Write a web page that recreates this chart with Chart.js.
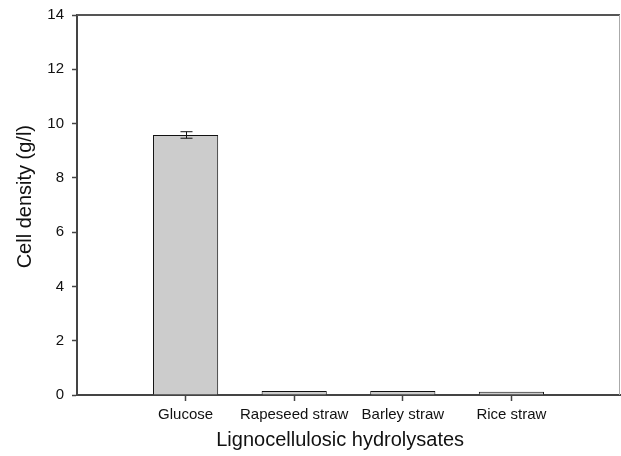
<!DOCTYPE html>
<html>
<head>
<meta charset="utf-8">
<script src="https://cdn.jsdelivr.net/npm/chart.js@4.4.0/dist/chart.umd.min.js"></script>
<style>
  html, body { margin: 0; padding: 0; background: #fff; }
  #wrap { width: 621px; height: 456px; }
</style>
</head>
<body>
<div id="wrap"><canvas id="barChart"></canvas></div>
<script>
var categories = ['Glucose', 'Rapeseed straw', 'Barley straw', 'Rice straw'];
var density = [9.58, 0.15, 0.15, 0.12];
var errors = [0.12, 0, 0, 0];
var yTicks = [0, 2, 4, 6, 8, 10, 12, 14];

var font = 'Liberation Sans, Arial, sans-serif';

// bars sit at x = 1..4 on a 0..5 axis, like the original plot
var points = categories.map(function (c, i) {
    return { x: i + 1, y: density[i] };
});

// top + right frame lines and the error bar caps
var extras = {
    id: 'extras',
    afterDatasetsDraw: function (chart) {
        var ctx = chart.ctx;
        var a = chart.chartArea;
        var xs = chart.scales.x, ys = chart.scales.y;
        ctx.save();
        ctx.strokeStyle = '#555';
        ctx.lineWidth = 2;
        ctx.beginPath();
        ctx.moveTo(a.left, a.top);
        ctx.lineTo(a.right, a.top);
        ctx.stroke();
        ctx.strokeStyle = '#aaa';
        ctx.lineWidth = 1;
        ctx.beginPath();
        ctx.moveTo(a.right - 0.5, a.top);
        ctx.lineTo(a.right - 0.5, a.bottom);
        ctx.stroke();

        ctx.strokeStyle = '#111';
        ctx.lineWidth = 1;
        errors.forEach(function (e, i) {
            if (!e) return;
            var px = Math.round(xs.getPixelForValue(i + 1)) + 0.5;
            var hi = ys.getPixelForValue(density[i] + e);
            var lo = ys.getPixelForValue(density[i] - e);
            ctx.beginPath();
            ctx.moveTo(px, hi); ctx.lineTo(px, lo);
            ctx.moveTo(px - 6, hi); ctx.lineTo(px + 6, hi);
            ctx.moveTo(px - 6, lo); ctx.lineTo(px + 6, lo);
            ctx.stroke();
        });
        ctx.restore();
    }
};

new Chart(document.getElementById('barChart').getContext('2d'), {
    type: 'bar',
    data: {
        datasets: [{
            data: points,
            backgroundColor: '#cccccc',
            borderColor: '#111',
            borderWidth: 1,
            barPercentage: 0.6,
            categoryPercentage: 1
        }]
    },
    plugins: [extras],
    options: {
        responsive: true,
        maintainAspectRatio: false,
        animation: false,
        layout: { padding: { top: 0, right: 1, left: 0, bottom: 0 } },
        plugins: {
            legend: { display: false },
            tooltip: { enabled: false }
        },
        scales: {
            x: {
                type: 'linear',
                offset: false,
                min: 0,
                max: 5,
                afterBuildTicks: function (scale) {
                    scale.ticks = categories.map(function (c, i) { return { value: i + 1 }; });
                },
                afterFit: function (scale) { scale.height = 61; },
                grid: { display: true, offset: false, drawOnChartArea: false, tickLength: 6, color: '#444', tickWidth: 1.5 },
                border: { color: '#444', width: 2 },
                ticks: {
                    autoSkip: false,
                    maxRotation: 0,
                    padding: 5,
                    color: '#111',
                    font: { family: font, size: 15 },
                    callback: function (v) { return categories[v - 1] || ''; }
                },
                title: {
                    display: true,
                    // trailing spaces nudge the centred title a bit left, as in the original
                    text: 'Lignocellulosic hydrolysates   ',
                    color: '#111',
                    font: { family: font, size: 20 },
                    padding: { top: 0, bottom: 4 }
                }
            },
            y: {
                min: 0,
                max: 14,
                afterBuildTicks: function (scale) {
                    scale.ticks = yTicks.map(function (v) { return { value: v }; });
                },
                afterFit: function (scale) {
                    scale.width = 77;
                    scale.paddingTop = 15;
                },
                grid: { display: true, drawOnChartArea: false, tickLength: 5, color: '#444', tickWidth: 1.5 },
                border: { color: '#444', width: 2 },
                ticks: {
                    padding: 8,
                    color: '#111',
                    font: { family: font, size: 15 }
                },
                title: {
                    display: true,
                    text: '   Cell density (g/l)',
                    color: '#111',
                    font: { family: font, size: 20 },
                    padding: { top: 13, bottom: 0 }
                }
            }
        }
    }
});
</script>
</body>
</html>
